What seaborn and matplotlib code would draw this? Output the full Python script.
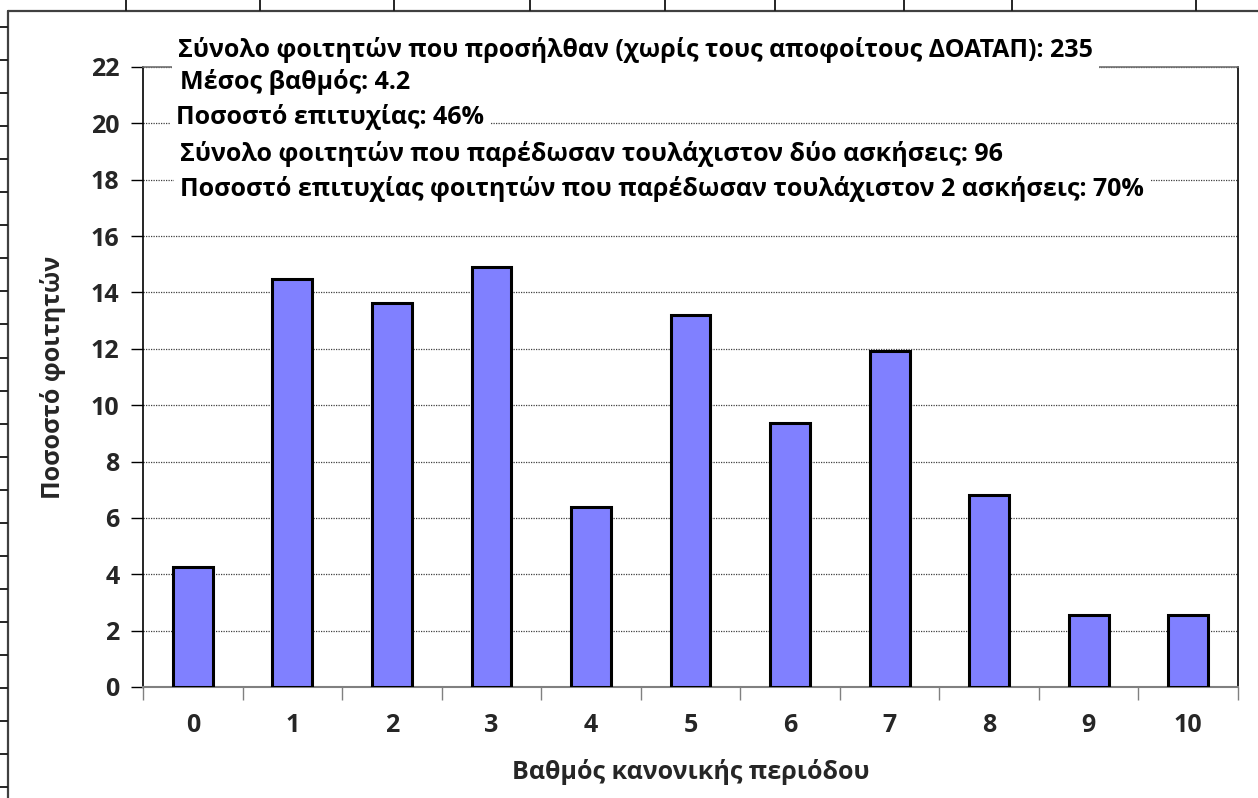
import numpy as np
import pandas as pd
import matplotlib
matplotlib.use("Agg")
import matplotlib.pyplot as plt
from matplotlib.lines import Line2D
import seaborn as sns

# ---- data ----
grades = ["0", "1", "2", "3", "4", "5", "6", "7", "8", "9", "10"]
percent = [4.26, 14.47, 13.62, 14.89, 6.38, 13.19, 9.36, 11.91, 6.81, 2.55, 2.55]
y_ticks = [0, 2, 4, 6, 8, 10, 12, 14, 16, 18, 20, 22]
notes = [
    "Σύνολο φοιτητών που προσήλθαν (χωρίς τους αποφοίτους ΔΟΑΤΑΠ): 235",
    "Μέσος βαθμός: 4.2",
    "Ποσοστό επιτυχίας: 46%",
    "Σύνολο φοιτητών που παρέδωσαν τουλάχιστον δύο ασκήσεις: 96",
    "Ποσοστό επιτυχίας φοιτητών που παρέδωσαν τουλάχιστον 2 ασκήσεις: 70%",
]
x_label = "Βαθμός κανονικής περιόδου"
y_label = "Ποσοστό φοιτητών"

sns.set_theme(style="white")
plt.rcParams["font.family"] = ["Open Sans", "DejaVu Sans"]
plt.rcParams["font.weight"] = "bold"

FS = 18

W, H = 1258, 798
fig = plt.figure(figsize=(W / 100, H / 100), dpi=100)
ax = fig.add_axes([143 / W, 1 - 687 / H, (1238 - 143) / W, (687 - 67) / H])

df = pd.DataFrame({"grade": grades, "pct": percent})
sns.barplot(data=df, x="grade", y="pct", ax=ax, color="#8080FF", saturation=1,
            width=0.4, edgecolor="black", linewidth=2.2, zorder=3)

ax.set_xlim(-0.5, 10.5)
ax.set_ylim(0, 22)
ax.set_yticks(y_ticks)
ax.set_yticklabels([str(t) for t in y_ticks], fontsize=FS, fontweight="bold")
ax.yaxis.grid(True, linestyle=(0, (1, 1)), color="#404040", linewidth=0.9, zorder=0)
ax.xaxis.grid(False)
ax.set_axisbelow(True)

# x: boundary ticks (major), labels at centres (minor)
ax.set_xticks(np.arange(-0.5, 11, 1))
ax.set_xticklabels([])
ax.set_xticks(np.arange(len(grades)), minor=True)
ax.set_xticklabels(grades, minor=True, fontsize=FS, fontweight="bold")
ax.tick_params(axis="x", which="major", direction="out", length=9, width=1, color="#808080",
               bottom=True)
ax.tick_params(axis="x", which="minor", length=0, pad=19, bottom=True)
ax.tick_params(axis="y", direction="out", length=9, width=1, color="black", left=True, pad=8)

ax.set_xlabel(x_label, fontsize=FS, fontweight="bold", labelpad=15)
ax.set_ylabel(y_label, fontsize=FS, fontweight="bold", labelpad=18)

for side in ["left", "right"]:
    ax.spines[side].set_color("black")
    ax.spines[side].set_linewidth(1.2)
ax.spines["bottom"].set_color("#808080")
ax.spines["bottom"].set_linewidth(1.5)
ax.spines["top"].set_color("#707070")
ax.spines["top"].set_linewidth(1.2)

# annotation boxes (pixel positions converted to axes fraction)
def to_axes(px, py):
    return ((px - 143) / (1238 - 143), (687 - py) / (687 - 67))

note_pos = [(178, 50), (180, 82), (176, 117), (180, 154), (180, 189)]
for txt, (px, py) in zip(notes, note_pos):
    xa, ya = to_axes(px, py)
    ax.text(xa, ya, txt, transform=ax.transAxes, ha="left", va="center",
            fontsize=FS, fontweight="bold", color="black", zorder=10, clip_on=False,
            bbox=dict(boxstyle="square,pad=0.25", facecolor="white", edgecolor="none"))

# spreadsheet frame around the embedded chart
def fig_line(x0, y0, x1, y1, **kw):
    fig.add_artist(Line2D([x0 / W, x1 / W], [1 - y0 / H, 1 - y1 / H],
                          transform=fig.transFigure, **kw))

fig_line(7.5, 10.5, W, 10.5, color="#404040", lw=1.6)
fig_line(7.5, 10.5, 7.5, H, color="#404040", lw=1.6)
for cx in [126, 260, 394, 530, 665, 775, 904, 1012, 1196]:
    fig_line(cx, 0, cx, 10, color="black", lw=1.2)
for ry in np.arange(27, H, 33.05):
    fig_line(0, ry, 7, ry, color="black", lw=1.2)

fig.savefig("out.png", dpi=100, facecolor="white")
